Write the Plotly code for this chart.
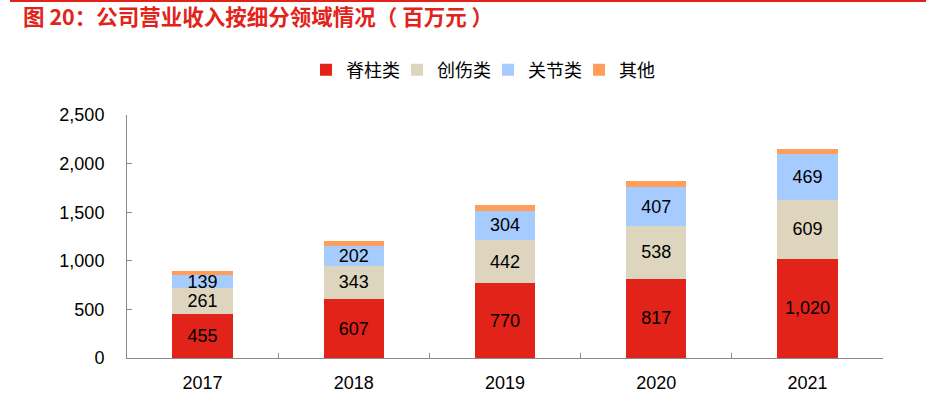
import plotly.graph_objects as go

years = ["2017", "2018", "2019", "2020", "2021"]
spine = [455, 607, 770, 817, 1020]
trauma = [261, 343, 442, 538, 609]
joint = [139, 202, 304, 407, 469]
other = [45, 51, 54, 57, 57]
series_names = ["脊柱类", "创伤类", "关节类", "其他"]
colors = ["#E2231A", "#DDD5BE", "#A6CBFF", "#FF9E5A"]
y_ticks = [0, 500, 1000, 1500, 2000, 2500]

W, H = 926, 399
ML, MR, MT, MB = 127, 43, 115, 41
PH = H - MT - MB

fig = go.Figure()
for name, vals, col, labeled in zip(series_names, [spine, trauma, joint, other], colors,
                                    [True, True, True, False]):
    fig.add_trace(go.Bar(
        x=years, y=vals, name=name,
        marker=dict(color=col, line=dict(width=0)),
        text=[f"{v:,}" for v in vals] if labeled else None,
        textposition="inside" if labeled else "none",
        insidetextanchor="middle",
        constraintext="none",
        textfont=dict(family="Liberation Sans, Arial", size=18, color="#000000"),
        hoverinfo="x+y+name",
    ))

fig.update_layout(
    barmode="stack",
    bargap=0.6,
    width=W, height=H,
    margin=dict(l=ML, r=MR, t=MT, b=MB, autoexpand=False),
    paper_bgcolor="white", plot_bgcolor="white",
    font=dict(family="Liberation Sans, Arial", size=18, color="#000000"),
    uniformtext=dict(minsize=18, mode="show"),
    legend=dict(orientation="h", x=306 / W, xanchor="left", xref="container",
                y=1 - 70 / H, yref="container", yanchor="middle",
                font=dict(family="Noto Sans CJK SC", size=18, color="#000000"),
                itemwidth=30, entrywidth=46, entrywidthmode="pixels",
                tracegroupgap=0, traceorder="normal"),
    showlegend=True,
    title=dict(text="图 20：公司营业收入按细分领域情况（ 百万元 ）",
               x=23 / W, xanchor="left", xref="container",
               y=1 - 17 / H, yanchor="middle", yref="container",
               font=dict(family="Noto Sans CJK SC", size=21.5, color="#E2231A", weight="bold")),
    xaxis=dict(type="category", showline=True, linecolor="#898989", linewidth=1,
               ticks="inside", tickson="boundaries", ticklen=5, tickcolor="#898989",
               showgrid=False, ticklabelstandoff=8,
               tickfont=dict(family="Liberation Sans, Arial", size=18, color="#000000")),
    yaxis=dict(range=[0, 2500], tickvals=y_ticks, ticktext=[f"{v:,}" for v in y_ticks],
               showline=True, linecolor="#898989", linewidth=1,
               ticks="inside", ticklen=5, tickcolor="#898989",
               showgrid=False, zeroline=False, ticklabelstandoff=18,
               tickfont=dict(family="Liberation Sans, Arial", size=18, color="#000000")),
    shapes=[dict(type="line", xref="paper", yref="paper",
                 x0=-(ML - 10) / (W - ML - MR), x1=(W - ML) / (W - ML - MR),
                 y0=1 + (MT - 1) / PH, y1=1 + (MT - 1) / PH,
                 line=dict(color="#E2231A", width=2))],
)

fig.write_html("out.html", config={"displayModeBar": False},
               post_script="document.body.style.margin='0';document.body.style.padding='0';")
